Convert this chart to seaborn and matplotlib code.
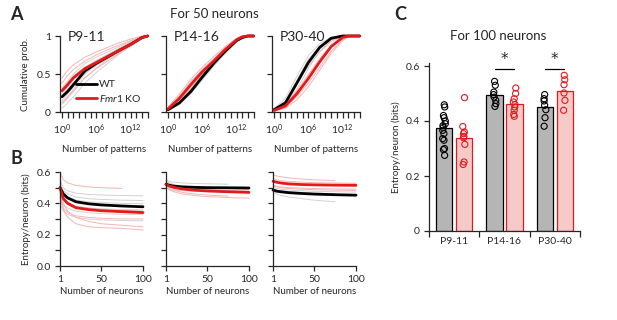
import numpy as np
import pandas as pd
import matplotlib
matplotlib.use('Agg')
import matplotlib.pyplot as plt
import seaborn as sns
from matplotlib.lines import Line2D
from matplotlib.ticker import FixedLocator, MultipleLocator, NullLocator

# ---------------- data ----------------
stages = ['P9-11', 'P14-16', 'P30-40']

# Panel A: cumulative probability vs number of patterns (grid in log10 decades)
a1_decades = [0, 1, 2, 4, 6, 8, 10, 12, 14, 15]
a1_wt_mean = [0.20, 0.27, 0.36, 0.54, 0.64, 0.725, 0.81, 0.89, 0.98, 1.0]
a1_ko_mean = [0.28, 0.36, 0.45, 0.57, 0.65, 0.73, 0.81, 0.89, 0.98, 1.0]
a1_wt_thin = [
    [0.05, 0.12, 0.20, 0.38, 0.52, 0.64, 0.76, 0.87, 0.97, 1.0],
    [0.10, 0.18, 0.27, 0.45, 0.58, 0.69, 0.79, 0.88, 0.98, 1.0],
    [0.15, 0.24, 0.33, 0.52, 0.63, 0.72, 0.81, 0.90, 0.98, 1.0],
    [0.25, 0.33, 0.42, 0.58, 0.68, 0.76, 0.84, 0.92, 0.99, 1.0],
    [0.32, 0.41, 0.50, 0.64, 0.72, 0.79, 0.86, 0.93, 0.99, 1.0],
    [0.12, 0.20, 0.30, 0.50, 0.61, 0.70, 0.78, 0.86, 0.96, 1.0],
]
a1_ko_thin = [
    [0.45, 0.55, 0.62, 0.72, 0.79, 0.85, 0.91, 0.96, 1.0, 1.0],
    [0.38, 0.48, 0.56, 0.67, 0.75, 0.82, 0.88, 0.94, 0.99, 1.0],
    [0.30, 0.39, 0.47, 0.59, 0.67, 0.75, 0.83, 0.91, 0.99, 1.0],
    [0.22, 0.30, 0.38, 0.52, 0.62, 0.71, 0.80, 0.89, 0.98, 1.0],
    [0.12, 0.20, 0.28, 0.45, 0.57, 0.67, 0.77, 0.87, 0.97, 1.0],
]

a23_decades = [0, 2, 4, 6, 8, 10, 12, 13, 14, 15]
a2_wt_mean = [0.03, 0.12, 0.27, 0.46, 0.64, 0.80, 0.94, 0.98, 1.0, 1.0]
a2_ko_mean = [0.04, 0.18, 0.36, 0.53, 0.67, 0.82, 0.95, 0.99, 1.0, 1.0]
a2_wt_thin = [
    [0.02, 0.10, 0.24, 0.42, 0.60, 0.77, 0.92, 0.97, 1.0, 1.0],
    [0.04, 0.15, 0.31, 0.50, 0.67, 0.83, 0.95, 0.99, 1.0, 1.0],
    [0.03, 0.13, 0.29, 0.48, 0.66, 0.82, 0.95, 0.99, 1.0, 1.0],
]
a2_ko_thin = [
    [0.06, 0.24, 0.43, 0.59, 0.73, 0.86, 0.97, 1.0, 1.0, 1.0],
    [0.05, 0.21, 0.40, 0.56, 0.70, 0.84, 0.96, 0.99, 1.0, 1.0],
    [0.03, 0.15, 0.32, 0.49, 0.64, 0.79, 0.93, 0.98, 1.0, 1.0],
    [0.04, 0.19, 0.36, 0.52, 0.66, 0.80, 0.93, 0.98, 1.0, 1.0],
]

a3_wt_mean = [0.03, 0.12, 0.38, 0.65, 0.85, 0.97, 1.0, 1.0, 1.0, 1.0]
a3_ko_mean = [0.02, 0.08, 0.24, 0.44, 0.66, 0.86, 0.98, 1.0, 1.0, 1.0]
a3_wt_thin = [
    [0.04, 0.18, 0.47, 0.74, 0.90, 0.98, 1.0, 1.0, 1.0, 1.0],
    [0.02, 0.09, 0.30, 0.57, 0.80, 0.95, 0.99, 1.0, 1.0, 1.0],
    [0.03, 0.14, 0.42, 0.69, 0.87, 0.97, 1.0, 1.0, 1.0, 1.0],
]
a3_ko_thin = [
    [0.03, 0.14, 0.38, 0.60, 0.79, 0.93, 0.99, 1.0, 1.0, 1.0],
    [0.02, 0.07, 0.20, 0.38, 0.59, 0.80, 0.95, 0.99, 1.0, 1.0],
    [0.01, 0.05, 0.16, 0.33, 0.55, 0.77, 0.94, 0.99, 1.0, 1.0],
    [0.02, 0.10, 0.28, 0.49, 0.70, 0.88, 0.98, 1.0, 1.0, 1.0],
]

# Panel B: entropy per neuron vs number of neurons
b_neurons = [1, 5, 10, 20, 35, 50, 75, 100]
b1_wt_mean = [0.50, 0.46, 0.435, 0.41, 0.397, 0.39, 0.383, 0.378]
b1_ko_mean = [0.50, 0.43, 0.40, 0.372, 0.36, 0.353, 0.347, 0.341]
b1_wt_thin = [
    [0.55, 0.50, 0.48, 0.465, 0.457, 0.453, 0.45, 0.448],
    [0.53, 0.48, 0.46, 0.44, 0.43, 0.425, 0.42, 0.418],
    [0.51, 0.46, 0.44, 0.42, 0.41, 0.405, 0.40, 0.398],
    [0.47, 0.42, 0.40, 0.38, 0.37, 0.365, 0.36, 0.358],
    [0.44, 0.39, 0.37, 0.35, 0.34, 0.335, 0.33, 0.328],
    [0.40, 0.35, 0.33, 0.31, 0.30, 0.295, 0.29, 0.288],
]
b1_ko_thin = [
    [0.60, 0.55, 0.53, 0.515, 0.505, 0.50, 0.495, np.nan],
    [0.48, 0.40, 0.35, 0.31, 0.285, 0.27, 0.26, 0.25],
    [0.47, 0.36, 0.31, 0.27, 0.25, 0.245, 0.24, 0.23],
    [0.44, 0.37, 0.34, 0.32, 0.31, 0.305, 0.30, 0.30],
    [0.52, 0.44, 0.41, 0.38, 0.37, 0.36, 0.355, 0.35],
]
b2_wt_mean = [0.522, 0.515, 0.51, 0.505, 0.502, 0.50, 0.499, 0.498]
b2_ko_mean = [0.52, 0.51, 0.502, 0.492, 0.484, 0.479, 0.474, 0.47]
b2_wt_thin = [
    [0.55, 0.54, 0.535, 0.53, 0.527, 0.525, 0.522, np.nan],
    [0.50, 0.49, 0.485, 0.48, 0.477, 0.475, 0.472, 0.47],
    [0.53, 0.52, 0.515, 0.51, 0.507, 0.505, 0.503, 0.50],
]
b2_ko_thin = [
    [0.54, 0.53, 0.52, 0.51, 0.503, 0.498, 0.494, 0.49],
    [0.51, 0.495, 0.485, 0.47, 0.46, 0.453, 0.446, np.nan],
    [0.53, 0.52, 0.512, 0.502, 0.494, 0.488, 0.482, 0.478],
    [0.50, 0.485, 0.475, 0.46, 0.45, 0.443, 0.437, 0.433],
]
b3_wt_mean = [0.485, 0.478, 0.474, 0.468, 0.463, 0.459, 0.455, 0.452]
b3_ko_mean = [0.541, 0.535, 0.53, 0.524, 0.52, 0.518, 0.516, 0.515]
b3_wt_thin = [
    [0.47, 0.46, 0.45, 0.44, 0.43, 0.42, 0.41, np.nan],
    [0.50, 0.495, 0.49, 0.485, 0.48, 0.477, 0.474, 0.472],
    [0.49, 0.485, 0.48, 0.475, 0.47, 0.466, 0.462, np.nan],
]
b3_ko_thin = [
    [0.58, 0.575, 0.57, 0.562, 0.555, 0.55, 0.545, np.nan],
    [0.56, 0.55, 0.545, 0.54, 0.535, 0.532, 0.53, 0.528],
    [0.51, 0.505, 0.50, 0.495, 0.49, 0.487, 0.484, 0.482],
    [0.52, 0.51, 0.505, 0.50, 0.497, 0.494, 0.492, 0.49],
]

# Panel C: entropy per neuron for 100 neurons
c_wt_bars = [0.375, 0.493, 0.450]
c_ko_bars = [0.340, 0.463, 0.510]
c_wt_points = [
    [0.459, 0.451, 0.42, 0.412, 0.40, 0.39, 0.383, 0.376, 0.366, 0.354, 0.336, 0.33, 0.30, 0.296, 0.275],
    [0.544, 0.53, 0.505, 0.496, 0.487, 0.475, 0.463, 0.453],
    [0.496, 0.481, 0.473, 0.457, 0.441, 0.412, 0.381],
]
c_ko_points = [
    [0.485, 0.38, 0.36, 0.354, 0.344, 0.339, 0.315, 0.251, 0.242],
    [0.52, 0.50, 0.481, 0.469, 0.46, 0.451, 0.439, 0.424, 0.417],
    [0.566, 0.55, 0.532, 0.502, 0.475, 0.439],
]
sig_stages = ['P14-16', 'P30-40']

# ---------------- style ----------------
sns.set_style('ticks')
plt.rcParams['font.family'] = ['Lato', 'DejaVu Sans']
plt.rcParams['mathtext.fontset'] = 'custom'
plt.rcParams['mathtext.rm'] = 'Lato'
plt.rcParams['mathtext.it'] = 'Lato:italic'
plt.rcParams['axes.linewidth'] = 0.9
plt.rcParams['xtick.major.width'] = 0.9
plt.rcParams['ytick.major.width'] = 0.9
plt.rcParams['ytick.minor.width'] = 0.9

wt_color = 'black'
ko_color = '#e31a1c'
thin_gray = '#d2d2d2'
thin_pink = '#f5b4b4'
bar_gray = '#b5b5b5'
bar_pink = '#ffc2c2'


def curves_df(x, curves):
    rows = []
    for i, c in enumerate(curves):
        for xv, yv in zip(x, c):
            rows.append((xv, yv, i))
    return pd.DataFrame(rows, columns=['x', 'y', 'unit']).dropna()


def draw_traces(ax, x, wt_thin, ko_thin, wt_mean, ko_mean):
    for curves, color in [(wt_thin, thin_gray), (ko_thin, thin_pink)]:
        sns.lineplot(data=curves_df(x, curves), x='x', y='y', units='unit',
                     estimator=None, color=color, lw=0.7, ax=ax, clip_on=False)
    sns.lineplot(x=x, y=wt_mean, color=wt_color, lw=2.0, ax=ax, clip_on=False)
    sns.lineplot(x=x, y=ko_mean, color=ko_color, lw=2.0, ax=ax, clip_on=False)
    ax.set_xlabel('')
    ax.set_ylabel('')


fig = plt.figure(figsize=(6.17, 3.2), dpi=100)
W, H = 617.0, 320.0


def add_ax(left, top, right, bottom):
    return fig.add_axes([left / W, 1 - bottom / H, (right - left) / W, (bottom - top) / H])


# ---------------- panel A ----------------
a_panels = [
    (60, 'P9-11', a1_decades, a1_wt_thin, a1_ko_thin, a1_wt_mean, a1_ko_mean),
    (166, 'P14-16', a23_decades, a2_wt_thin, a2_ko_thin, a2_wt_mean, a2_ko_mean),
    (272, 'P30-40', a23_decades, a3_wt_thin, a3_ko_thin, a3_wt_mean, a3_ko_mean),
]
for i, (left, stage, dec, wt_thin, ko_thin, wt_mean, ko_mean) in enumerate(a_panels):
    ax = add_ax(left, 36, left + 88, 112)
    x = [10.0 ** d for d in dec]
    draw_traces(ax, x, wt_thin, ko_thin, wt_mean, ko_mean)
    ax.set_xscale('log')
    ax.set_xlim(10 ** -0.35, 10 ** 15.05)
    ax.set_ylim(0, 1)
    ax.xaxis.set_major_locator(FixedLocator([10.0 ** d for d in range(16)]))
    ax.xaxis.set_minor_locator(NullLocator())
    ax.set_xticklabels(['$10^{%d}$' % d if d in (0, 6, 12) else '' for d in range(16)])
    ax.set_yticks([0, 0.5, 1])
    ax.set_yticklabels(['0', '0.5', '1'] if i == 0 else [])
    ax.tick_params(axis='both', labelsize=7.5, length=3.5, pad=3)
    ax.tick_params(axis='x', length=4.5)
    ax.set_xlabel('Number of patterns', fontsize=7, labelpad=6)
    if i == 0:
        ax.set_ylabel('Cumulative prob.', fontsize=7, labelpad=5)
        handles = [Line2D([], [], color=wt_color, lw=2.0),
                   Line2D([], [], color=ko_color, lw=2.0)]
        ax.legend(handles, ['WT', r'$\it{Fmr1}$ KO'], loc='lower right',
                  bbox_to_anchor=(1.03, -0.02), frameon=False, fontsize=7.5,
                  handlelength=2.0, handletextpad=0.2, labelspacing=0.35)
    ax.text(0.09, 0.99, stage, transform=ax.transAxes, fontsize=10,
            ha='left', va='center')
    sns.despine(ax=ax)

# ---------------- panel B ----------------
b_panels = [
    (60, b1_wt_thin, b1_ko_thin, b1_wt_mean, b1_ko_mean),
    (166, b2_wt_thin, b2_ko_thin, b2_wt_mean, b2_ko_mean),
    (273, b3_wt_thin, b3_ko_thin, b3_wt_mean, b3_ko_mean),
]
for i, (left, wt_thin, ko_thin, wt_mean, ko_mean) in enumerate(b_panels):
    ax = add_ax(left, 172, left + 83, 266)
    draw_traces(ax, b_neurons, wt_thin, ko_thin, wt_mean, ko_mean)
    ax.set_xlim(1, 100)
    ax.set_ylim(0, 0.6)
    ax.set_xticks([1, 50, 100])
    ax.set_yticks([0, 0.2, 0.4, 0.6])
    ax.yaxis.set_minor_locator(MultipleLocator(0.1))
    if i == 0:
        ax.set_yticklabels(['0.0', '0.2', '0.4', '0.6'])
        ax.set_ylabel('Entropy/neuron (bits)', fontsize=7, labelpad=4)
    else:
        ax.set_yticklabels([])
    ax.tick_params(axis='both', which='both', labelsize=7.5, length=3.5, pad=3)
    ax.set_xlabel('Number of neurons', fontsize=7, labelpad=2)
    sns.despine(ax=ax)

# ---------------- panel C ----------------
bars_df = pd.DataFrame({
    'stage': stages * 2,
    'genotype': ['WT'] * 3 + ['KO'] * 3,
    'value': c_wt_bars + c_ko_bars,
})
pts_rows = []
for geno, groups in [('WT', c_wt_points), ('KO', c_ko_points)]:
    for stage, vals in zip(stages, groups):
        for v in vals:
            pts_rows.append((stage, geno, v))
pts_df = pd.DataFrame(pts_rows, columns=['stage', 'genotype', 'value'])

axc = add_ax(429, 63.25, 580, 231)
sns.barplot(data=bars_df, x='stage', y='value', hue='genotype', order=stages,
            hue_order=['WT', 'KO'], palette={'WT': bar_gray, 'KO': bar_pink},
            errorbar=None, width=0.8, gap=0.18, linewidth=0.9, legend=False, ax=axc)
for p in axc.patches:
    fc = p.get_facecolor()
    p.set_edgecolor('black' if abs(fc[0] - fc[1]) < 0.05 else ko_color)

np.random.seed(3)
n_before = len(axc.collections)
sns.stripplot(data=pts_df, x='stage', y='value', hue='genotype', order=stages,
              hue_order=['WT', 'KO'], palette={'WT': 'black', 'KO': ko_color},
              dodge=True, jitter=0.06, size=4.4, linewidth=0.8, legend=False, ax=axc)
for coll in axc.collections[n_before:]:
    fc = coll.get_facecolor()
    coll.set_edgecolor(fc)
    coll.set_facecolor('none')
    coll.set_clip_on(False)

for stage in sig_stages:
    k = stages.index(stage)
    axc.plot([k - 0.19, k + 0.19], [0.59, 0.59], color='black', lw=0.9, clip_on=False)
    axc.text(k, 0.596, '*', ha='center', va='bottom', fontsize=11,
             family='DejaVu Sans', clip_on=False)

axc.set_xlim(-0.5, 2.5)
axc.set_ylim(0, 0.61)
axc.set_xticks([-0.5, 0.5, 1.5, 2.5])
axc.set_xticklabels([])
axc.set_xticks([0, 1, 2], minor=True)
axc.set_xticklabels(stages, minor=True)
axc.tick_params(axis='x', which='minor', length=0, labelsize=7.5, pad=4)
axc.tick_params(axis='x', which='major', length=4)
axc.set_yticks([0, 0.2, 0.4, 0.6])
axc.set_yticklabels(['0', '0.2', '0.4', '0.6'])
axc.tick_params(axis='y', labelsize=7.5, length=3.5, pad=3)
axc.set_xlabel('')
axc.set_ylabel('Entropy/neuron (bits)', fontsize=7, labelpad=3)
sns.despine(ax=axc)

# ---------------- titles and panel letters ----------------
fig.text(16 / W, 1 - 14 / H, 'A', fontsize=13, fontweight='bold', ha='center', va='center')
fig.text(16 / W, 1 - 159 / H, 'B', fontsize=13, fontweight='bold', ha='center', va='center')
fig.text(400 / W, 1 - 14 / H, 'C', fontsize=13, fontweight='bold', ha='center', va='center')
fig.text(214 / W, 1 - 14 / H, 'For 50 neurons', fontsize=9.5, ha='center', va='center')
fig.text(498 / W, 1 - 36 / H, 'For 100 neurons', fontsize=9.5, ha='center', va='center')

fig.savefig('out.png', dpi=100)
